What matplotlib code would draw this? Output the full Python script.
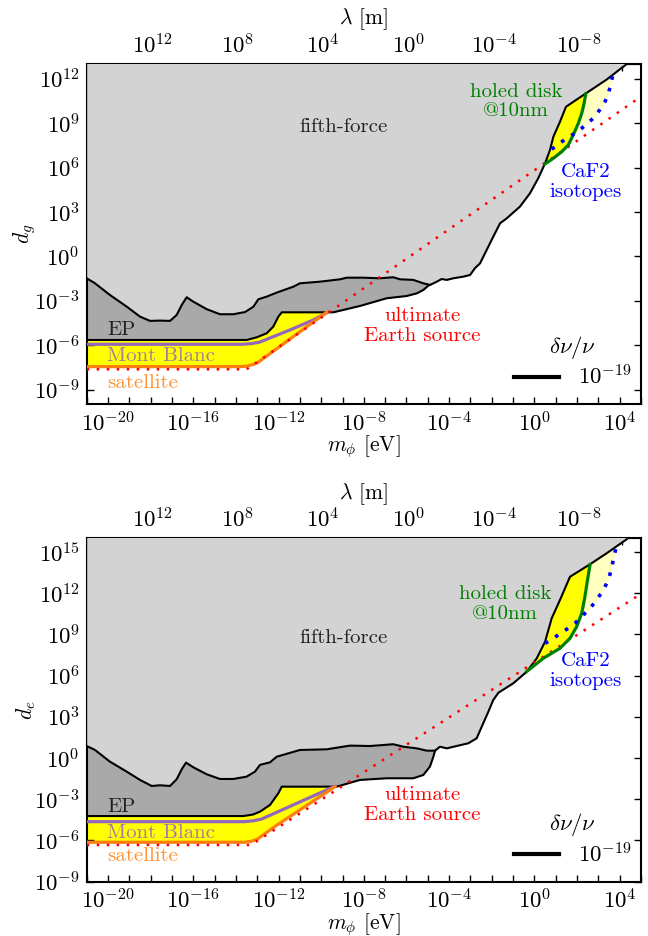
import numpy as np
import matplotlib
matplotlib.use('Agg')
import matplotlib.pyplot as plt
from matplotlib.ticker import FixedLocator, FuncFormatter, NullLocator

plt.rcParams['font.family'] = ['cmr10', 'DejaVu Serif']
plt.rcParams['mathtext.fontset'] = 'cm'
plt.rcParams['axes.formatter.use_mathtext'] = True
plt.rcParams['font.size'] = 15
plt.rcParams['axes.unicode_minus'] = False

# ---- data (log10 values) ----
# top panel: d_g
ff_g_m = [-21, -20.61, -19.91, -19.12, -18.50, -18.03, -17.56, -17.09, -16.78, -16.54,
          -16.31, -16.0, -15.37, -14.75, -14.12, -13.57, -13.18, -12.95, -12.56, -12.09,
          -11.31, -11.0, -10.06, -9.12, -8.80, -8.03, -7.24, -6.62, -6.30, -5.68,
          -5.21, -4.90, -4.58, -4.35, -4.11, -3.80, -3.34, -3.02, -2.79, -2.55,
          -2.24, -1.93, -1.61, -1.30, -0.68, -0.21, 0.18, 0.50, 0.73, 0.89,
          1.20, 1.48, 2.45, 3.39, 4.33]
ff_g_d = [-1.48, -1.82, -2.61, -3.40, -4.07, -4.36, -4.34, -4.36, -3.96, -3.28,
          -2.76, -3.06, -3.57, -3.91, -3.91, -3.76, -3.40, -2.90, -2.72, -2.45,
          -2.05, -1.82, -1.71, -1.55, -1.44, -1.44, -1.48, -1.41, -1.55, -1.59,
          -1.82, -1.93, -1.71, -1.53, -1.59, -1.48, -1.37, -1.26, -0.80, -0.47,
          0.43, 1.33, 2.24, 2.57, 3.36, 4.26, 5.28, 6.29, 7.19, 8.09,
          9.10, 10.11, 11.05, 11.95, 13.0]
ep_g_m = [-21, -13.5, -13.03, -12.56, -12.25, -12.01, -11.85, -9.43, -8.18, -6.93,
          -6.0, -5.52, -5.21, -4.98, -4.90]
ep_g_d = [-5.65, -5.65, -5.47, -5.20, -4.75, -4.07, -3.78, -3.78, -3.35, -2.83,
          -2.68, -2.50, -2.27, -1.98, -1.93]
sat_g_m = [-21, -13.8, -13.5, -13.25, -13.0, -9.75]
sat_g_d = [-7.45, -7.45, -7.42, -7.33, -7.2, -3.78]
mb_g_m = [-21, -13.7, -13.3, -12.9, -11.46, -10.37, -9.75]
mb_g_d = [-5.94, -5.94, -5.90, -5.80, -4.97, -4.30, -3.82]
earth_g_m = [-21, -13.5, 5.2]
earth_g_d = [-7.63, -7.63, 11.0]
disk_g_m = [0.50, 0.89, 1.28, 1.59, 1.82, 2.06, 2.22, 2.33, 2.41]
disk_g_d = [6.25, 6.63, 7.07, 7.53, 8.20, 8.99, 9.67, 10.34, 10.98]
caf_g_m = [0.81, 1.12, 1.51, 1.90, 2.22, 2.53, 2.84, 3.08, 3.31, 3.47, 3.58, 3.67]
caf_g_d = [7.24, 7.58, 7.98, 8.32, 8.66, 9.04, 9.44, 9.94, 10.45, 11.02, 11.58, 12.2]

# bottom panel: d_e
ff_e_m = [-21, -20.61, -19.91, -19.12, -18.5, -17.95, -17.56, -17.09, -16.78, -16.54,
          -16.34, -16.0, -15.37, -14.75, -14.12, -13.5, -13.11, -12.87, -12.4, -12.09,
          -11.0, -9.74, -8.65, -7.71, -6.62, -6.15, -5.52, -5.05, -4.66, -4.43,
          -4.11, -3.65, -3.10, -2.71, -2.47, -2.16, -1.93, -1.69, -0.99, -0.36,
          0.11, 0.50, 0.81, 1.20, 1.67, 2.61, 3.39, 4.33]
ff_e_d = [0.87, 0.58, -0.27, -1.0, -1.60, -2.04, -1.99, -2.04, -1.55, -0.82,
          -0.34, -0.68, -1.19, -1.53, -1.53, -1.36, -1.0, -0.5, -0.32, 0.09,
          0.58, 0.63, 0.90, 0.87, 1.0, 0.82, 0.70, 0.53, 0.53, 0.82,
          0.70, 0.87, 1.07, 1.43, 2.28, 3.37, 4.22, 4.75, 5.44, 6.28,
          7.26, 8.47, 10.17, 11.51, 13.20, 14.11, 14.91, 15.93]
ep_e_m = [-21, -13.65, -13.2, -12.87, -12.4, -12.01, -11.85, -9.27, -8.18, -6.93,
          -5.68, -5.21, -4.90, -4.74, -4.66]
ep_e_d = [-4.23, -4.23, -4.12, -3.91, -3.42, -2.57, -2.09, -2.09, -1.60, -1.48,
          -1.48, -1.24, -0.63, 0.09, 0.53]
sat_e_m = [-21, -13.6, -13.3, -13.0, -12.09, -9.35]
sat_e_d = [-6.14, -6.14, -6.08, -5.92, -4.9, -2.09]
mb_e_m = [-21, -13.6, -13.2, -12.8, -11.93, -9.4]
mb_e_d = [-4.64, -4.64, -4.58, -4.45, -3.85, -2.09]
earth_e_m = [-21, -13.3, 5.2]
earth_e_d = [-6.34, -6.34, 12.16]
disk_e_m = [-0.36, 0.42, 1.20, 1.67, 1.98, 2.22, 2.37, 2.49, 2.61]
disk_e_d = [6.3, 7.26, 7.99, 8.72, 9.56, 10.54, 11.75, 12.96, 14.08]
caf_e_m = [0.50, 0.89, 1.51, 1.90, 2.29, 2.61, 2.92, 3.23, 3.47, 3.62, 3.73, 3.83]
caf_e_d = [8.35, 8.72, 9.37, 9.81, 10.41, 10.90, 11.51, 12.23, 12.96, 13.82, 14.66, 15.3]

xlim = (1e-21, 1e5)
hc = 1.24e-6  # eV m


def P(a):
    return 10.0 ** np.array(a)


def m_to_lam(x):
    with np.errstate(divide='ignore'):
        return hc / np.asarray(x, dtype=float)


def logfmt(keep):
    def f(v, pos):
        k = int(round(np.log10(v)))
        return r'$10^{%d}$' % k if k in keep else ''
    return FuncFormatter(f)


def panel(ax, ff, ep, sat, mb, earth, disk, caf, ylim, yticks, ylab, txt):
    top = 1e30
    ax.fill_between(P(caf[0]), P(caf[1]), top, color='#ffffc0', lw=0, zorder=1)
    ax.fill_between(P(disk[0]), P(disk[1]), top, color='yellow', lw=0, zorder=1.2)
    ax.fill_between(P(sat[0]), P(sat[1]), top, color='yellow', lw=0, zorder=1.2)
    ax.fill_between(P(ep[0]), P(ep[1]), top, color='darkgray', lw=0, zorder=2)
    ax.fill_between(P(ff[0]), P(ff[1]), top, color='lightgray', lw=0, zorder=3)
    ax.plot(P(ep[0]), P(ep[1]), color='k', lw=1.5, zorder=4)
    ax.plot(P(ff[0]), P(ff[1]), color='k', lw=1.5, zorder=4)
    ax.plot(P(mb[0]), P(mb[1]), color='tab:purple', lw=2.3, zorder=5)
    ax.plot(P(sat[0]), P(sat[1]), color='tab:orange', lw=2.3, zorder=5)
    ax.plot(P(earth[0]), P(earth[1]), color='red', lw=1.8, ls=(0, (1, 3)), zorder=6)
    ax.plot(P(disk[0]), P(disk[1]), color='green', lw=2.3, zorder=6)
    ax.plot(P(caf[0]), P(caf[1]), color='blue', lw=2.6, ls=(0, (1, 2.3)), zorder=6)

    ax.set_xscale('log')
    ax.set_yscale('log')
    ax.set_xlim(*xlim)
    ax.set_ylim(*ylim)

    ax.xaxis.set_major_locator(FixedLocator(P(np.arange(-21, 6))))
    ax.xaxis.set_major_formatter(logfmt([-20, -16, -12, -8, -4, 0, 4]))
    ax.xaxis.set_minor_locator(NullLocator())
    ax.yaxis.set_major_locator(FixedLocator(P(yticks)))
    ax.yaxis.set_major_formatter(logfmt(yticks))
    ax.yaxis.set_minor_locator(NullLocator())
    ax.tick_params(axis='both', direction='in', length=5, width=1.0, labelsize=16.5,
                   right=True, top=False, pad=5)
    for s in ax.spines.values():
        s.set_linewidth(1.5)
    ax.set_xlabel(r'$m_\phi$ [eV]', fontsize=15.5, labelpad=-1.5)
    ax.set_ylabel(ylab, fontsize=15.5, labelpad=-3)

    sec = ax.secondary_xaxis('top', functions=(m_to_lam, m_to_lam))
    sec.xaxis.set_major_locator(FixedLocator(P(np.arange(-12, 17))))
    sec.xaxis.set_major_formatter(logfmt([12, 8, 4, 0, -4, -8]))
    sec.xaxis.set_minor_locator(NullLocator())
    sec.tick_params(direction='in', length=5, width=1.0, labelsize=16.5, pad=5)
    sec.set_xlabel(r'$\lambda$ [m]', fontsize=15.5, labelpad=6)

    ax.text(P(txt['ff'][0]), P(txt['ff'][1]), 'fifth-force', ha='center', va='center',
            color='#222222', fontsize=15, zorder=8)
    ax.text(P(txt['disk'][0]), P(txt['disk'][1]), 'holed disk\n@10nm', ha='center',
            va='center', color='green', fontsize=15, linespacing=1.1, zorder=8)
    ax.text(P(txt['caf'][0]), P(txt['caf'][1]), 'CaF2\nisotopes', ha='center',
            va='center', color='blue', fontsize=15, linespacing=1.15, zorder=8)
    ax.text(P(txt['earth'][0]), P(txt['earth'][1]), 'ultimate\nEarth source', ha='center',
            va='center', color='red', fontsize=15, linespacing=1.1, zorder=8)
    ax.text(P(-20.03), P(txt['ep']), 'EP', ha='left', va='center', color='#222222',
            fontsize=15, zorder=8)
    ax.text(P(-20.03), P(txt['mb']), 'Mont Blanc', ha='left', va='center',
            color='tab:purple', alpha=0.85, fontsize=15, zorder=8)
    ax.text(P(-20.03), P(txt['sat']), 'satellite', ha='left', va='center',
            color='tab:orange', alpha=0.85, fontsize=15, zorder=8)

    h, = ax.plot([], [], color='k', lw=3)
    leg = ax.legend([h], [r'$10^{-19}$'], title=r'$\delta\nu/\nu$', loc='lower right',
                    frameon=False, fontsize=16.5, title_fontsize=16.5, handlelength=2.0,
                    labelspacing=0.15, bbox_to_anchor=(1.02, -0.015))
    leg.set_zorder(10)


fig = plt.figure(figsize=(6.48, 9.36), dpi=100)
ax1 = fig.add_axes([0.1338, 0.568, 0.8554, 0.3636])
ax2 = fig.add_axes([0.1338, 0.0582, 0.8554, 0.3667])

panel(ax1, (ff_g_m, ff_g_d), (ep_g_m, ep_g_d), (sat_g_m, sat_g_d), (mb_g_m, mb_g_d),
      (earth_g_m, earth_g_d), (disk_g_m, disk_g_d), (caf_g_m, caf_g_d),
      (1e-10, 1e13), [-9, -6, -3, 0, 3, 6, 9, 12], r'$d_g$',
      {'ff': (-8.93, 8.74), 'disk': (-0.87, 10.45), 'caf': (2.42, 5.0),
       'earth': (-5.27, -4.7), 'ep': -4.97, 'mb': -6.73, 'sat': -8.53})
panel(ax2, (ff_e_m, ff_e_d), (ep_e_m, ep_e_d), (sat_e_m, sat_e_d), (mb_e_m, mb_e_d),
      (earth_e_m, earth_e_d), (disk_e_m, disk_e_d), (caf_e_m, caf_e_d),
      (1e-9, 1e16), [-9, -6, -3, 0, 3, 6, 9, 12, 15], r'$d_e$',
      {'ff': (-8.93, 8.74), 'disk': (-1.38, 11.2), 'caf': (2.4, 6.32),
       'earth': (-5.27, -3.42), 'ep': -3.55, 'mb': -5.49, 'sat': -7.14})

fig.savefig('out.png', dpi=100)
